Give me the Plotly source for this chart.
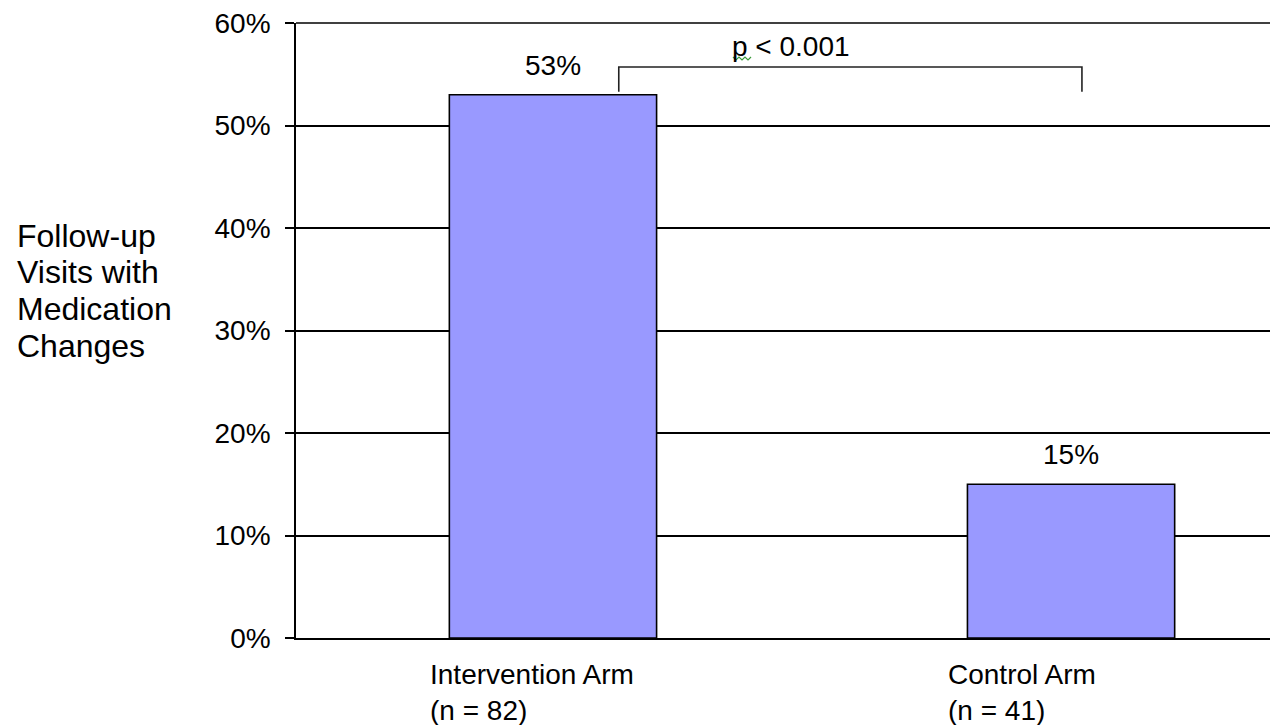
import plotly.graph_objects as go

# ---- data ----
categories = ["Intervention Arm", "Control Arm"]
sample_sizes = ["(n = 82)", "(n = 41)"]
values = [0.53, 0.15]
value_labels = ["53%", "15%"]
y_ticks = [0, 0.1, 0.2, 0.3, 0.4, 0.5, 0.6]
y_tick_labels = ["0%", "10%", "20%", "30%", "40%", "50%", "60%"]
y_title_lines = ["Follow-up", "Visits with", "Medication", "Changes"]
p_text = "p < 0.001"
bracket_y = [0.533, 0.557]   # leg bottom, bracket top (in value units)

FONT = "Liberation Sans, Arial, sans-serif"
FS = 28
W, H = 1270, 725
ML, MT, MB = 296, 23, 87
PW, PH = W - ML, H - MT - MB


def px_to_paper_y(py):
    return (H - MB - py) / PH


def px_to_paper_x(px):
    return (px - ML) / PW


x_idx = list(range(len(categories)))

fig = go.Figure()
fig.add_trace(go.Bar(
    x=x_idx, y=values, width=0.4,
    marker=dict(color="#9999FF", line=dict(color="#000000", width=1.6)),
    hoverinfo="skip", showlegend=False,
))

annotations = []
# value labels above bars
for i, (v, t) in enumerate(zip(values, value_labels)):
    annotations.append(dict(x=i, y=v, xref="x", yref="y", text=t, showarrow=False,
                            yanchor="bottom", yshift=12,
                            font=dict(family=FONT, size=FS, color="#000")))
# category labels (left-aligned, two lines)
for i, (c, n) in enumerate(zip(categories, sample_sizes)):
    annotations.append(dict(x=i, y=0, xref="x", yref="paper", text=c + "<br>" + n,
                            showarrow=False, xanchor="left", yanchor="top", align="left",
                            xshift=-125, yshift=-19,
                            font=dict(family=FONT, size=FS, color="#000")))
# y-axis title, one annotation per line
title_centers_px = [236, 272, 309, 346]
for line, cy in zip(y_title_lines, title_centers_px):
    annotations.append(dict(x=0, y=px_to_paper_y(cy), xref="paper", yref="paper",
                            text=line, showarrow=False,
                            xanchor="left", yanchor="middle", align="left", xshift=-281,
                            font=dict(family=FONT, size=32, color="#000")))
# p-value text
annotations.append(dict(x=0.5, y=bracket_y[1], xref="x", yref="y", text=p_text,
                        showarrow=False, xanchor="left", yanchor="bottom", xshift=-82, yshift=3,
                        font=dict(family=FONT, size=FS, color="#000")))

# bracket
bx0, bx1 = 0.127, 1.021
shapes = [
    dict(type="path", xref="x", yref="y",
         path=f"M {bx0} {bracket_y[0]} L {bx0} {bracket_y[1]} L {bx1} {bracket_y[1]} L {bx1} {bracket_y[0]}",
         line=dict(color="#222", width=1.6)),
    # top border line at 60%
    dict(type="line", xref="paper", yref="paper", x0=0, x1=1, y0=1, y1=1,
         line=dict(color="#000", width=1.6)),
]
# small green spell-check squiggle under the "p"
sq_x = [733, 736, 739, 742, 745, 748, 751]
sq_y = [57, 60, 57, 60, 57, 60, 57]
sq_path = "M " + " L ".join(f"{px_to_paper_x(a):.5f} {px_to_paper_y(b):.5f}" for a, b in zip(sq_x, sq_y))
shapes.append(dict(type="path", xref="paper", yref="paper", path=sq_path,
                   line=dict(color="#3a9a3a", width=1.2)))

fig.update_layout(
    width=W, height=H,
    margin=dict(l=ML, r=0, t=MT, b=MB, pad=0),
    paper_bgcolor="white", plot_bgcolor="white",
    xaxis=dict(range=[-0.496, 1.384], showticklabels=False, showgrid=False,
               zeroline=False, showline=True, linecolor="#000", linewidth=1.6, ticks=""),
    yaxis=dict(range=[0, 0.6], tickvals=y_ticks, ticktext=y_tick_labels,
               showgrid=True, gridcolor="#000", gridwidth=1.6,
               showline=True, linecolor="#000", linewidth=1.6,
               ticks="outside", ticklen=9, tickcolor="#000", tickwidth=1.6,
               ticklabelstandoff=9, zeroline=False,
               tickfont=dict(family=FONT, size=FS, color="#000")),
    annotations=annotations,
    shapes=shapes,
)

fig.write_html("out.html", config={"displayModeBar": False},
               post_script="document.body.style.margin='0px';document.body.style.overflow='hidden';")
